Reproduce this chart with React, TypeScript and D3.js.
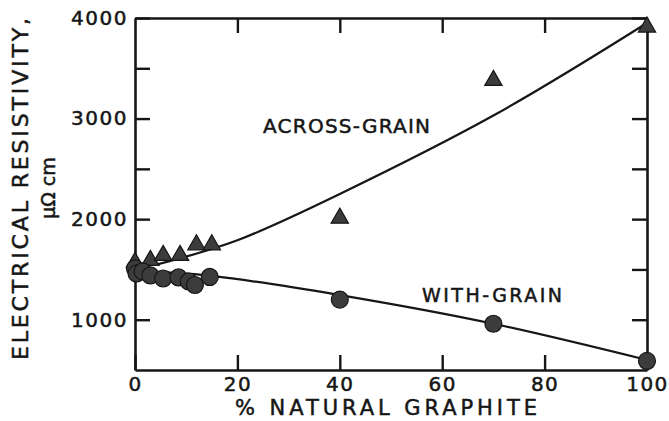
import { useEffect, useRef } from "react"
import * as d3 from "d3"

// measured points, % natural graphite vs resistivity (µΩ cm)
const acrossX = [0, 3, 5.5, 8.8, 12, 15, 40, 70, 100]
const acrossY = [1570, 1590, 1640, 1640, 1745, 1745, 2010, 3380, 3910]
const withX = [0, 0.3, 1.5, 3, 5.5, 8.5, 10.5, 11.7, 14.6, 40, 70, 100]
const withY = [1510, 1460, 1480, 1440, 1410, 1420, 1380, 1345, 1425, 1200, 960, 590]

// hand-drawn fit curves
const acrossFitX = [4, 20, 40, 70, 100]
const acrossFitY = [1545, 1790, 2250, 3030, 3950]
const withFitX = [0, 15, 40, 70, 100]
const withFitY = [1480, 1435, 1245, 960, 600]

const xTicks = [0, 20, 40, 60, 80, 100]
const xInnerTicks = [20, 40, 60, 80]
const yLabels = [1000, 2000, 3000, 4000]
const yTicks = [1000, 1500, 2000, 2500, 3000, 3500, 4000]

const INK = "#161616"
const FONT = "'DejaVu Sans', sans-serif"

export default function App() {
  const svgRef = useRef<SVGSVGElement>(null)

  useEffect(() => {
    if (!svgRef.current) return
    d3.select(svgRef.current).selectAll("*").remove()

    const width = 669
    const height = 421
    const plot = { left: 135, right: 647, top: 18, bottom: 370 }

    const svg = d3.select(svgRef.current).attr("width", width).attr("height", height)

    const x = d3.scaleLinear().domain([0, 100]).range([plot.left, plot.right])
    const y = d3.scaleLinear().domain([500, 4000]).range([plot.bottom, plot.top])

    const styleAxis = (g: d3.Selection<SVGGElement, unknown, null, undefined>) => {
      g.select(".domain").attr("stroke", INK).attr("stroke-width", 2.6)
      g.selectAll(".tick line").attr("stroke", INK).attr("stroke-width", 2.4)
      g.selectAll(".tick text")
        .attr("fill", INK)
        .attr("stroke", INK)
        .attr("stroke-width", 0.5)
        .style("font-family", FONT)
        .style("font-size", "20px")
        .style("letter-spacing", "1.5px")
    }

    // left axis
    svg
      .append("g")
      .attr("transform", `translate(${plot.left},0)`)
      .call(
        d3
          .axisLeft(y)
          .tickValues(yTicks)
          .tickSize(-15)
          .tickSizeOuter(0)
          .tickPadding(7)
          .tickFormat((d) => (yLabels.includes(d as number) ? String(d) : ""))
      )
      .call(styleAxis)

    // right axis
    svg
      .append("g")
      .attr("transform", `translate(${plot.right},0)`)
      .call(d3.axisRight(y).tickValues(yTicks).tickSize(-15).tickSizeOuter(0).tickFormat(() => ""))
      .call(styleAxis)

    // bottom axis
    svg
      .append("g")
      .attr("transform", `translate(0,${plot.bottom})`)
      .call(
        d3
          .axisBottom(x)
          .tickValues(xTicks)
          .tickSize(-15)
          .tickSizeOuter(0)
          .tickPadding(7)
          .tickFormat((d) => String(d))
      )
      .call(styleAxis)

    // top axis
    svg
      .append("g")
      .attr("transform", `translate(0,${plot.top})`)
      .call(d3.axisTop(x).tickValues(xInnerTicks).tickSize(-15).tickSizeOuter(0).tickFormat(() => ""))
      .call(styleAxis)

    // fit curves
    const line = d3
      .line<[number, number]>()
      .x((d) => x(d[0]))
      .y((d) => y(d[1]))
      .curve(d3.curveNatural)

    svg
      .append("path")
      .datum(acrossFitX.map((v, i) => [v, acrossFitY[i]] as [number, number]))
      .attr("d", line)
      .attr("fill", "none")
      .attr("stroke", INK)
      .attr("stroke-width", 2.2)

    svg
      .append("path")
      .datum(withFitX.map((v, i) => [v, withFitY[i]] as [number, number]))
      .attr("d", line)
      .attr("fill", "none")
      .attr("stroke", INK)
      .attr("stroke-width", 2.2)

    // across-grain triangles
    const tri = d3.symbol().type(d3.symbolTriangle).size(130)
    svg
      .selectAll(".tri")
      .data(acrossX.map((v, i) => [v, acrossY[i]]))
      .enter()
      .append("path")
      .attr("class", "tri")
      .attr("d", tri)
      .attr("transform", (d) => `translate(${x(d[0])},${y(d[1])})`)
      .attr("fill", "#3c3c3c")
      .attr("stroke", INK)
      .attr("stroke-width", 1.2)

    // with-grain circles
    svg
      .selectAll(".dot")
      .data(withX.map((v, i) => [v, withY[i]]))
      .enter()
      .append("circle")
      .attr("class", "dot")
      .attr("cx", (d) => x(d[0]))
      .attr("cy", (d) => y(d[1]))
      .attr("r", 8.5)
      .attr("fill", "#3c3c3c")
      .attr("stroke", INK)
      .attr("stroke-width", 1.2)

    const label = (t: d3.Selection<SVGTextElement, unknown, null, undefined>, size: number) =>
      t
        .style("font-family", FONT)
        .style("font-size", `${size}px`)
        .style("fill", INK)
        .attr("stroke", INK)
        .attr("stroke-width", 0.5)

    // curve labels
    svg
      .append("text")
      .attr("x", 263)
      .attr("y", 133)
      .attr("textLength", 167)
      .attr("lengthAdjust", "spacing")
      .call(label, 20)
      .text("ACROSS-GRAIN")

    svg
      .append("text")
      .attr("x", 422)
      .attr("y", 302)
      .attr("textLength", 140)
      .attr("lengthAdjust", "spacing")
      .call(label, 19)
      .text("WITH-GRAIN")

    // x axis title
    svg
      .append("text")
      .attr("x", 235)
      .attr("y", 415)
      .attr("textLength", 302)
      .attr("lengthAdjust", "spacing")
      .call(label, 21)
      .text("% NATURAL GRAPHITE")

    // y axis title
    svg
      .append("text")
      .attr("transform", "translate(28,189) rotate(-90)")
      .attr("text-anchor", "middle")
      .attr("textLength", 342)
      .attr("lengthAdjust", "spacing")
      .call(label, 22)
      .text("ELECTRICAL RESISTIVITY,")

    svg
      .append("text")
      .attr("transform", "translate(55,188) rotate(-90)")
      .attr("text-anchor", "middle")
      .call(label, 19)
      .text("μΩ cm")
  }, [])

  return <svg ref={svgRef} style={{ position: "absolute", left: 0, top: 0, background: "#fff" }}></svg>
}
